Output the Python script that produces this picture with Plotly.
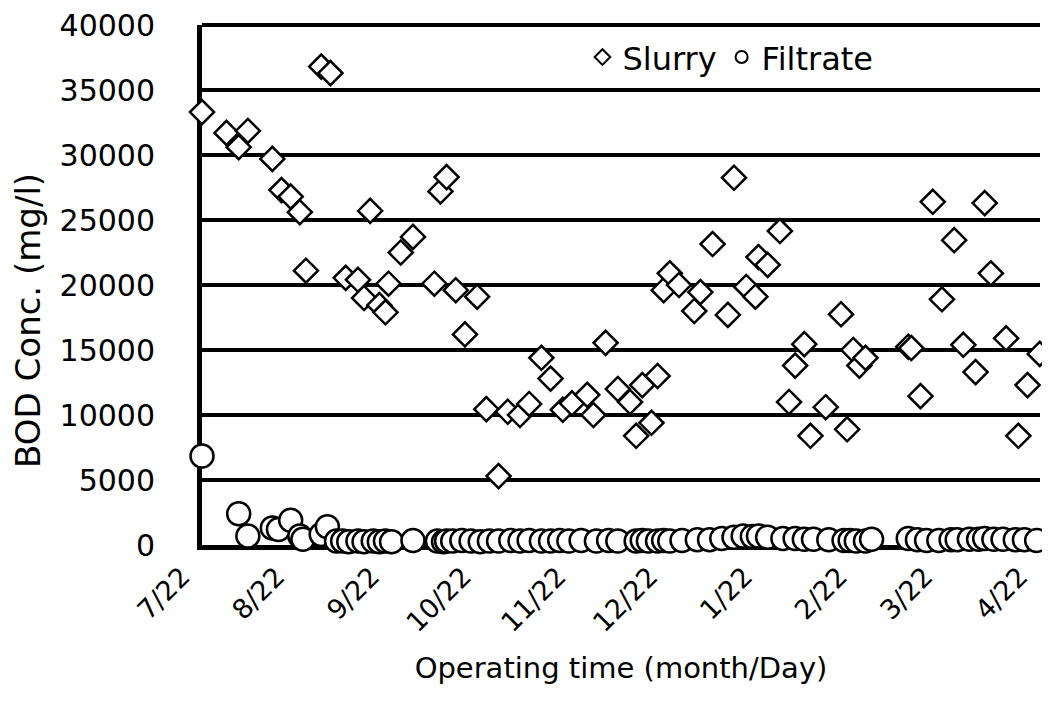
import plotly.graph_objects as go

# ---- data ----
slurry_dates = [
    "2002-07-22", "2002-07-30", "2002-08-03", "2002-08-06", "2002-08-14", "2002-08-17",
    "2002-08-20", "2002-08-23", "2002-08-25", "2002-08-30", "2002-09-02", "2002-09-07",
    "2002-09-11", "2002-09-13", "2002-09-15", "2002-09-18", "2002-09-20", "2002-09-21",
    "2002-09-25", "2002-09-29", "2002-10-06", "2002-10-08", "2002-10-10", "2002-10-13",
    "2002-10-16", "2002-10-20", "2002-10-23", "2002-10-27", "2002-10-30", "2002-11-03",
    "2002-11-06", "2002-11-10", "2002-11-13", "2002-11-17", "2002-11-20", "2002-11-25",
    "2002-11-27", "2002-12-01", "2002-12-05", "2002-12-09", "2002-12-11", "2002-12-13",
    "2002-12-16", "2002-12-18", "2002-12-20", "2002-12-22", "2002-12-25", "2002-12-30",
    "2003-01-01", "2003-01-05", "2003-01-10", "2003-01-12", "2003-01-16", "2003-01-19",
    "2003-01-20", "2003-01-23", "2003-01-27", "2003-01-30", "2003-02-01", "2003-02-04",
    "2003-02-06", "2003-02-11", "2003-02-16", "2003-02-18", "2003-02-20", "2003-02-22",
    "2003-02-24", "2003-03-10", "2003-03-11", "2003-03-14", "2003-03-18", "2003-03-21",
    "2003-03-25", "2003-03-28", "2003-04-01", "2003-04-04", "2003-04-06", "2003-04-11",
    "2003-04-15", "2003-04-18", "2003-04-22",
]
slurry_bod = [
    33300, 31700, 30600, 31850, 29700, 27300,
    26800, 25600, 21100, 36800, 36300, 20550,
    20400, 19000, 25700, 18450, 17900, 20100,
    22500, 23700, 20100, 27200, 28300, 19600,
    16200, 19100, 10450, 5300, 10250, 10000,
    10850, 14400, 12800, 10400, 10900, 11550,
    10000, 15550, 12000, 11000, 8400, 12300,
    9400, 13000, 19600, 20900, 20000, 18000,
    19450, 23150, 17700, 28250, 19850, 19100,
    22150, 21550, 24150, 11000, 13800, 15450,
    8400, 10600, 17750, 8900, 15000, 13800,
    14400, 15250, 15150, 11450, 26400, 18900,
    23450, 15400, 13300, 26300, 20900, 15900,
    8400, 12300, 14700,
]

filtrate_dates = [
    "2002-07-22", "2002-08-03", "2002-08-06", "2002-08-14", "2002-08-16", "2002-08-20",
    "2002-08-23", "2002-08-24", "2002-08-30", "2002-09-01", "2002-09-04", "2002-09-06",
    "2002-09-08", "2002-09-11", "2002-09-13", "2002-09-16", "2002-09-18", "2002-09-20",
    "2002-09-22", "2002-09-29", "2002-10-07", "2002-10-09", "2002-10-10", "2002-10-12",
    "2002-10-15", "2002-10-18", "2002-10-21", "2002-10-24", "2002-10-27", "2002-10-31",
    "2002-11-03", "2002-11-06", "2002-11-10", "2002-11-13", "2002-11-16", "2002-11-19",
    "2002-11-23", "2002-11-28", "2002-12-02", "2002-12-05", "2002-12-11", "2002-12-13",
    "2002-12-15", "2002-12-18", "2002-12-20", "2002-12-22", "2002-12-26", "2002-12-31",
    "2003-01-04", "2003-01-08", "2003-01-12", "2003-01-15", "2003-01-18", "2003-01-20",
    "2003-01-23", "2003-01-28", "2003-02-01", "2003-02-04", "2003-02-07", "2003-02-12",
    "2003-02-17", "2003-02-19", "2003-02-21", "2003-02-24", "2003-02-26", "2003-03-10",
    "2003-03-13", "2003-03-16", "2003-03-20", "2003-03-24", "2003-03-26", "2003-03-30",
    "2003-04-02", "2003-04-04", "2003-04-07", "2003-04-10", "2003-04-14", "2003-04-17",
    "2003-04-21",
]
filtrate_bod = [
    6850, 2400, 700, 1300, 1200, 1900,
    700, 450, 800, 1400, 300, 300,
    250, 300, 250, 300, 250, 300,
    250, 350, 300, 250, 300, 300,
    350, 300, 250, 300, 300, 350,
    300, 350, 300, 300, 350, 300,
    350, 300, 350, 300, 300, 350,
    300, 300, 350, 300, 350, 400,
    400, 500, 600, 700, 650, 700,
    600, 500, 500, 450, 450, 400,
    350, 350, 300, 300, 450, 500,
    400, 350, 350, 400, 400, 450,
    450, 500, 450, 450, 400, 400,
    350,
]

x_tick_dates = ["2002-07-22", "2002-08-22", "2002-09-22", "2002-10-22", "2002-11-22",
                "2002-12-22", "2003-01-22", "2003-02-22", "2003-03-22", "2003-04-22"]
x_tick_labels = ["7/22", "8/22", "9/22", "10/22", "11/22", "12/22", "1/22", "2/22", "3/22", "4/22"]
y_tick_values = [0, 5000, 10000, 15000, 20000, 25000, 30000, 35000, 40000]
y_tick_labels = ["0", "5000", "10000", "15000", "20000", "25000", "30000", "35000", "40000"]

FONT = "DejaVu Sans"

fig = go.Figure()
fig.add_trace(go.Scatter(
    x=slurry_dates, y=slurry_bod, mode="markers", name="Slurry",
    cliponaxis=False,
    marker=dict(symbol="diamond", size=18.5, color="white",
                line=dict(color="black", width=2.5)),
))
fig.add_trace(go.Scatter(
    x=filtrate_dates, y=filtrate_bod, mode="markers", name="Filtrate",
    cliponaxis=False,
    marker=dict(symbol="circle", size=23, color="white",
                line=dict(color="black", width=2.5)),
))

# top border line at the 40000 level (plotly omits the gridline at the range end)
fig.add_shape(type="line", xref="paper", x0=0, x1=1, yref="paper", y0=1, y1=1,
              line=dict(color="black", width=4), layer="below")

# y-axis title placed as a rotated annotation
fig.add_annotation(text="BOD Conc. (mg/l)", xref="paper", yref="paper",
                   x=-0.207, y=0.432, xanchor="center", yanchor="middle",
                   textangle=-90, showarrow=False,
                   font=dict(family=FONT, size=34, color="black"))

fig.update_layout(
    width=1050, height=706,
    margin=dict(l=194, r=18, t=17, b=169),
    paper_bgcolor="white", plot_bgcolor="white",
    font=dict(family=FONT, size=28, color="black"),
    showlegend=True,
    legend=dict(orientation="h", x=0.454, xanchor="left", y=0.938, yanchor="middle",
                bgcolor="rgba(0,0,0,0)", itemsizing="constant",
                font=dict(family=FONT, size=32, color="black")),
    xaxis=dict(
        type="date", range=["2002-07-22", "2003-04-22 02:00"],
        tickmode="array", tickvals=x_tick_dates, ticktext=x_tick_labels,
        tickangle=-45, tickfont=dict(family=FONT, size=27),
        ticklabelshift=-20, ticklabeloverflow="allow",
        showgrid=False, zeroline=False,
        showline=True, linewidth=5, linecolor="black", layer="below traces",
        ticks="", automargin=False,
        title=dict(text="Operating time (month/Day)", font=dict(family=FONT, size=29),
                   standoff=22),
    ),
    yaxis=dict(
        range=[0, 40000], tickmode="array", tickvals=y_tick_values, ticktext=y_tick_labels,
        tickfont=dict(family=FONT, size=30), ticklabeloverflow="allow",
        showgrid=True, gridcolor="black", gridwidth=4, zeroline=False,
        showline=True, linewidth=5, linecolor="black", layer="below traces",
        ticks="", ticklabelstandoff=36, automargin=False,
    ),
)

fig.write_html("out.html")
